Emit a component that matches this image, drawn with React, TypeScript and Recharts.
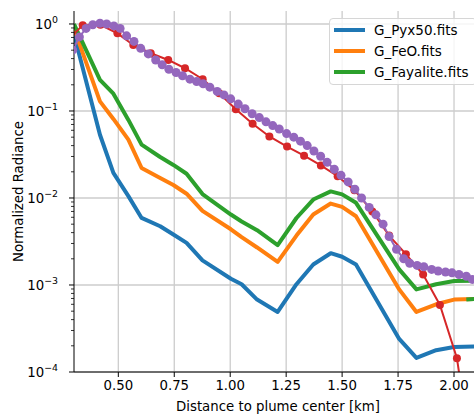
import React from 'react';
import { LineChart, Line, XAxis, YAxis, CartesianGrid, Label } from 'recharts';

// model curves share one distance grid (km)
const modelDistance = [
  0.302, 0.418, 0.478, 0.545, 0.604, 0.687, 0.746, 0.805, 0.876, 1.003, 1.051, 1.12,
  1.212, 1.296, 1.371, 1.449, 1.5, 1.562, 1.755, 1.832, 1.92, 2.0, 2.09,
];
const pyx50 = [
  0.76, 0.0533, 0.0194, 0.0105, 0.0059, 0.00473, 0.0038, 0.00305, 0.00192, 0.00118, 0.00102,
  0.00068, 0.00049, 0.00102, 0.00172, 0.00232, 0.00211, 0.00172, 0.00024, 0.000145, 0.000178,
  0.000194, 0.000196,
];
const feo = [
  0.89, 0.129, 0.081, 0.0468, 0.0221, 0.017, 0.0141, 0.0112, 0.0071, 0.00437, 0.00355, 0.0027,
  0.00184, 0.0037, 0.00646, 0.00863, 0.0079, 0.00617, 0.00089, 0.00049, 0.0006, 0.00068,
  0.00069,
];
const fayalite = [
  1.0, 0.228, 0.158, 0.079, 0.041, 0.0296, 0.024, 0.019, 0.0111, 0.00646, 0.00537, 0.00427,
  0.00288, 0.00589, 0.0096, 0.0119, 0.011, 0.0088, 0.00151, 0.00089, 0.00102, 0.00111, 0.00112,
];
// short green piece at the right edge
const fayaliteTailDistance = [2.055, 2.091];
const fayaliteTail = [0.00068, 0.00069];

// observed profile (red)
const redDistance = [
  0.266, 0.341, 0.42, 0.496, 0.567, 0.645, 0.723, 0.798, 0.877, 0.951, 1.025, 1.1, 1.175,
  1.254, 1.33, 1.405, 1.48, 1.555, 1.635, 1.71, 1.785, 1.862, 1.937, 2.013, 2.088,
];
const redValues = [
  0.62, 0.97, 0.98, 0.78, 0.574, 0.461, 0.386, 0.31, 0.232, 0.16, 0.105, 0.0713, 0.051, 0.039,
  0.0306, 0.0237, 0.0178, 0.0123, 0.007, 0.0037, 0.00226, 0.00132, 0.00059, 0.000144, 0.000007,
];

// observed profile (purple)
const purpleDistance = [
  0.296, 0.326, 0.356, 0.386, 0.418, 0.448, 0.48, 0.508, 0.537, 0.57, 0.6, 0.634, 0.667, 0.696,
  0.726, 0.758, 0.787, 0.82, 0.85, 0.879, 0.909, 0.942, 0.972, 1.002, 1.036, 1.066, 1.098,
  1.13, 1.16, 1.19, 1.219, 1.252, 1.284, 1.314, 1.344, 1.374, 1.404, 1.433, 1.465, 1.495,
  1.527, 1.557, 1.587, 1.621, 1.651, 1.683, 1.71, 1.743, 1.775, 1.802, 1.835, 1.865, 1.9,
  1.929, 1.962, 1.991, 2.022, 2.055, 2.082,
];
const purpleValues = [
  0.5, 0.71, 0.89, 0.98, 1.02, 1.0, 0.95, 0.89, 0.73, 0.63, 0.525, 0.453, 0.386, 0.339, 0.302,
  0.277, 0.254, 0.232, 0.218, 0.205, 0.188, 0.168, 0.153, 0.138, 0.12, 0.106, 0.093, 0.084,
  0.075, 0.068, 0.062, 0.055, 0.05, 0.045, 0.04, 0.0347, 0.0302, 0.0257, 0.0214, 0.0182,
  0.0153, 0.0126, 0.01, 0.0078, 0.0064, 0.005, 0.0036, 0.00257, 0.002, 0.00178, 0.00168,
  0.00162, 0.00151, 0.00145, 0.00141, 0.00138, 0.00132, 0.00126, 0.00116,
];

const xTicks = [0.5, 0.75, 1.0, 1.25, 1.5, 1.75, 2.0];
const yMajor = [1e-4, 1e-3, 1e-2, 1e-1, 1];
const yMinor = [1e-4, 1e-3, 1e-2, 1e-1].flatMap((d) => [2, 3, 4, 5, 6, 7, 8, 9].map((m) => m * d));

const legendItems = [
  { name: 'G_Pyx50.fits', color: '#1f77b4' },
  { name: 'G_FeO.fits', color: '#ff7f0e' },
  { name: 'G_Fayalite.fits', color: '#2ca02c' },
];

// merge every series into one table keyed by distance; gaps are bridged with connectNulls
function buildRows() {
  const rows = new Map<number, any>();
  const add = (key: string, xs: number[], ys: number[]) => {
    xs.forEach((x, i) => {
      if (!rows.has(x)) rows.set(x, { x });
      rows.get(x)[key] = ys[i];
    });
  };
  add('pyx', modelDistance, pyx50);
  add('feo', modelDistance, feo);
  add('fay', modelDistance, fayalite);
  add('tail', fayaliteTailDistance, fayaliteTail);
  add('red', redDistance, redValues);
  add('purple', purpleDistance, purpleValues);
  return [...rows.values()].sort((a, b) => a.x - b.x);
}
const rows = buildRows();

const FONT = 'DejaVu Sans, sans-serif';

const YTick = (props: any) => {
  const { x, y, payload } = props;
  const lg = Math.log10(payload.value);
  const e = Math.round(lg);
  const major = Math.abs(lg - e) < 1e-6;
  if (!major) {
    return <line x1={x - 3} x2={x} y1={y} y2={y} stroke="#000" strokeWidth={0.8} />;
  }
  const exp = e < 0 ? '\u2212' + Math.abs(e) : String(e);
  return (
    <g>
      <line x1={x - 5} x2={x} y1={y} y2={y} stroke="#000" strokeWidth={1} />
      <text x={x - 16} y={y} dy={4.6} textAnchor="end" fontSize={13.3} fill="#000" fontFamily={FONT}>
        10
        <tspan dy={-6} fontSize={9.4}>{exp}</tspan>
      </text>
    </g>
  );
};

const YLabel = (props: any) => {
  const vb = props.viewBox;
  const cx = 18;
  const cy = vb.y + vb.height / 2;
  return (
    <text x={cx} y={cy} transform={`rotate(-90 ${cx} ${cy})`} textAnchor="middle" dominantBaseline="central"
      fontSize={13.3} fill="#000" fontFamily={FONT}>
      Normalized Radiance
    </text>
  );
};

export default function App() {
  return (
    <div style={{ position: 'absolute', left: 0, top: 0, width: 474, height: 415, overflow: 'hidden', background: '#fff', fontFamily: FONT }}>
      <LineChart width={482} height={415} data={rows} margin={{ top: 11, right: 0, left: 0, bottom: 0 }}>
        <CartesianGrid
          horizontalValues={yMajor}
          verticalValues={xTicks}
          stroke="#cccccc"
          strokeWidth={1.3}
        />
        <XAxis
          dataKey="x"
          type="number"
          domain={[0.302, 2.125]}
          allowDataOverflow
          ticks={xTicks}
          interval={0}
          tickFormatter={(v: number) => v.toFixed(2)}
          height={43}
          tickSize={5}
          tickMargin={4}
          tick={{ fontSize: 13.3, fill: '#000', fontFamily: FONT }}
          tickLine={{ stroke: '#000' }}
          axisLine={{ stroke: '#000' }}
        >
          <Label value="Distance to plume center [km]" position="insideBottom" offset={4}
            style={{ fontSize: 13.3, fill: '#000', fontFamily: FONT }} />
        </XAxis>
        <XAxis
          xAxisId="top"
          orientation="top"
          dataKey="x"
          type="number"
          domain={[0.302, 2.125]}
          allowDataOverflow
          height={0}
          tick={false}
          tickLine={false}
          axisLine={{ stroke: '#333' }}
        />
        <YAxis
          type="number"
          scale="log"
          domain={[1e-4, 1.41]}
          allowDataOverflow
          ticks={[...yMajor, ...yMinor]}
          interval={0}
          width={74}
          tickSize={0}
          tickMargin={0}
          tickLine={false}
          tick={<YTick />}
          axisLine={{ stroke: '#000' }}
        >
          <Label content={<YLabel />} />
        </YAxis>
        <Line dataKey="pyx" name="G_Pyx50.fits" stroke="#1f77b4" connectNulls
          strokeWidth={4} dot={false} isAnimationActive={false} strokeLinejoin="round" />
        <Line dataKey="feo" name="G_FeO.fits" stroke="#ff7f0e" connectNulls
          strokeWidth={4} dot={false} isAnimationActive={false} strokeLinejoin="round" />
        <Line dataKey="fay" name="G_Fayalite.fits" stroke="#2ca02c" connectNulls
          strokeWidth={4} dot={false} isAnimationActive={false} strokeLinejoin="round" />
        <Line dataKey="tail" name="tail" stroke="#2ca02c" connectNulls
          strokeWidth={4} dot={false} isAnimationActive={false} legendType="none" />
        <Line dataKey="red" name="red" stroke="#d62728" connectNulls
          strokeWidth={2} isAnimationActive={false} legendType="none"
          dot={{ r: 4, fill: '#d62728', stroke: '#d62728', strokeWidth: 0 }} />
        <Line dataKey="purple" name="purple" stroke="#9467bd" connectNulls
          strokeWidth={2} isAnimationActive={false} legendType="none"
          dot={{ r: 4.5, fill: '#9467bd', stroke: '#9467bd', strokeWidth: 0 }} />
      </LineChart>
      <div style={{
        position: 'absolute', left: 329, top: 18, width: 148, height: 67,
        border: '1px solid #d6d6d6', borderRadius: 4, background: 'rgba(255,255,255,0.8)',
        boxSizing: 'border-box',
      }}>
        {legendItems.map((it, i) => (
          <div key={it.name} style={{ position: 'absolute', left: 0, top: 4 + i * 21.2, height: 14, width: 148 }}>
            <div style={{ position: 'absolute', left: 4, top: 5, width: 31, height: 4, background: it.color }} />
            <div style={{ position: 'absolute', left: 44, top: -1, fontSize: 13.5, lineHeight: '16px', color: '#000', whiteSpace: 'nowrap' }}>
              {it.name}
            </div>
          </div>
        ))}
      </div>
    </div>
  );
}
